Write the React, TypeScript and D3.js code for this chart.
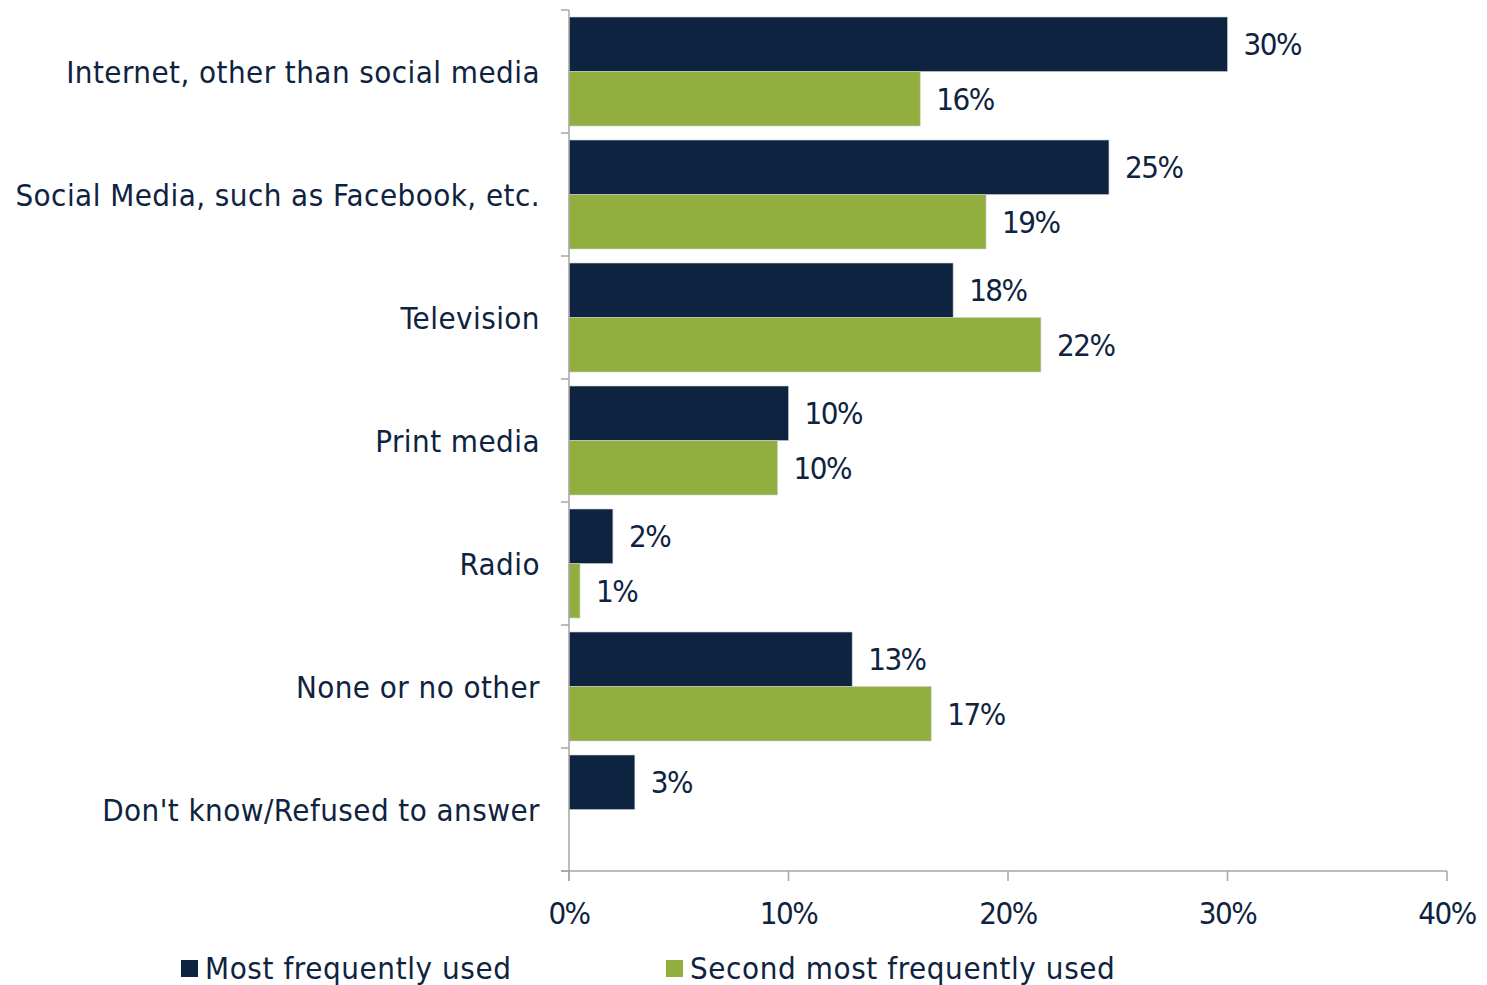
import React, { useEffect, useRef } from "react";
import * as d3 from "d3";

const categories = [
  "Internet, other than social media",
  "Social Media, such as Facebook, etc.",
  "Television",
  "Print media",
  "Radio",
  "None or no other",
  "Don't know/Refused to answer",
];
const seriesNames = ["Most frequently used", "Second most frequently used"];
const mostValues = [30, 24.6, 17.5, 10, 2, 12.9, 3];
const mostLabels = ["30%", "25%", "18%", "10%", "2%", "13%", "3%"];
const secondValues = [16, 19, 21.5, 9.5, 0.5, 16.5, null];
const secondLabels = ["16%", "19%", "22%", "10%", "1%", "17%", null];
const xTicks = [0, 10, 20, 30, 40];

const DARK = "#0E2340";
const GREEN = "#92AE3F";
const AXIS = "#A6A6A6";
const TEXT = "#0E2340";
const FONT = "'DejaVu Sans Condensed', 'DejaVu Sans', sans-serif";
const FS = 31;

export default function App() {
  const ref = useRef<SVGSVGElement>(null);
  useEffect(() => {
    const svg = d3.select(ref.current);
    svg.selectAll("*").remove();
    const left = 569, right = 1447, top = 10, bottom = 871;
    const x = d3.scaleLinear().domain([0, 40]).range([left, right]);
    const y = d3.scaleBand<string>().domain(categories).range([top, bottom]).paddingInner(0.114).paddingOuter(0.057);
    const g = svg.append("g");
    const bw = y.bandwidth() / 2;

    const series = [
      { vals: mostValues, labels: mostLabels, color: DARK, off: 0 },
      { vals: secondValues, labels: secondLabels, color: GREEN, off: 1 },
    ];
    series.forEach((s) => {
      categories.forEach((c, i) => {
        const v = s.vals[i];
        if (v == null) return;
        const y0 = (y(c) as number) + s.off * bw;
        g.append("rect").attr("x", x(0)).attr("y", y0).attr("width", x(v) - x(0)).attr("height", bw)
          .attr("fill", s.color).attr("stroke", "#C8CDD3").attr("stroke-width", 0.6);
        g.append("text").attr("x", x(v) + 16).attr("y", y0 + bw / 2).attr("dy", "0.36em")
          .attr("font-family", FONT).attr("font-size", FS).attr("letter-spacing", -1.5).attr("fill", TEXT).text(s.labels[i] as string);
      });
    });

    // y axis
    g.append("line").attr("x1", left).attr("x2", left).attr("y1", top).attr("y2", bottom + 10).attr("stroke", AXIS).attr("stroke-width", 1.5);
    d3.range(categories.length + 1).forEach((i) => {
      const yy = top + i * (bottom - top) / categories.length;
      g.append("line").attr("x1", left - 8).attr("x2", left).attr("y1", yy).attr("y2", yy).attr("stroke", AXIS).attr("stroke-width", 1.5);
    });
    categories.forEach((c) => {
      g.append("text").attr("x", 540).attr("y", (y(c) as number) + y.bandwidth() / 2).attr("dy", "0.36em")
        .attr("text-anchor", "end").attr("font-family", FONT).attr("font-size", FS).attr("letter-spacing", 0.45).attr("fill", TEXT).text(c);
    });

    // x axis
    g.append("line").attr("x1", left - 8).attr("x2", right).attr("y1", bottom).attr("y2", bottom).attr("stroke", AXIS).attr("stroke-width", 1.5);
    xTicks.forEach((t) => {
      g.append("line").attr("x1", x(t)).attr("x2", x(t)).attr("y1", bottom).attr("y2", bottom + 10).attr("stroke", AXIS).attr("stroke-width", 1.5);
      g.append("text").attr("x", x(t)).attr("y", 913).attr("dy", "0.36em").attr("text-anchor", "middle")
        .attr("font-family", FONT).attr("font-size", FS).attr("letter-spacing", -1.5).attr("fill", TEXT).text(`${t}%`);
    });

    // legend
    const legendX = [181, 666];
    seriesNames.forEach((n, i) => {
      g.append("rect").attr("x", legendX[i]).attr("y", 960).attr("width", 17).attr("height", 17).attr("fill", i === 0 ? DARK : GREEN);
      g.append("text").attr("x", legendX[i] + 24).attr("y", 968).attr("dy", "0.36em")
        .attr("font-family", FONT).attr("font-size", FS).attr("letter-spacing", 0.6).attr("fill", TEXT).text(n);
    });
  }, []);
  return (
    <svg ref={ref} width={1487} height={985} style={{ display: "block", position: "absolute", left: 0, top: 0, background: "#fff" }} />
  );
}
